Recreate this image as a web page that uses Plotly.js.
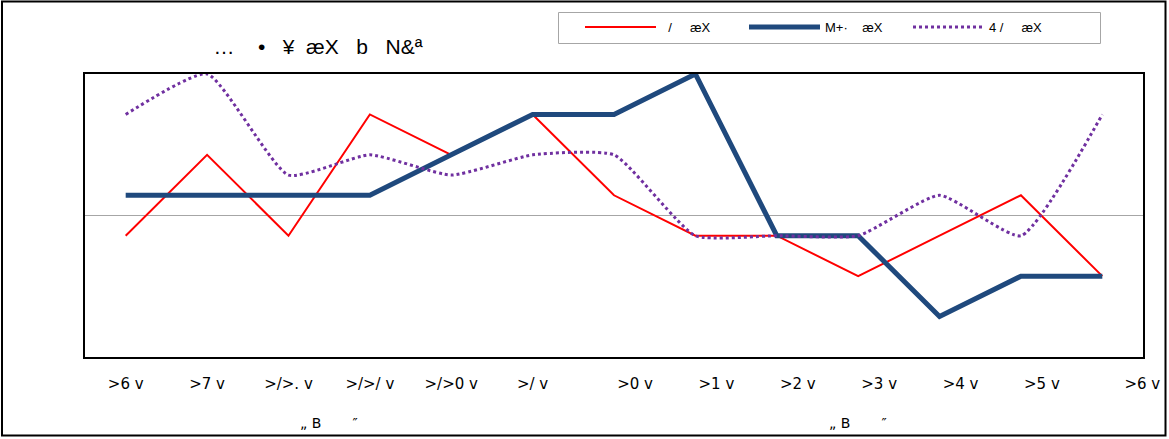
<!DOCTYPE html>
<html>
<head>
<meta charset="utf-8">
<script src="https://cdn.plot.ly/plotly-3.0.1.min.js"></script>
<style>
html,body{margin:0;padding:0;background:#fff;}
#chart{width:1169px;height:439px;}
</style>
</head>
<body>
<div id="chart"></div>
<script>
// ---- data ----
var categories = ['>6 v', '>7 v', '>/>. v', '>/>/ v', '>/>0 v', '>/ v', '>0 v', '>1 v', '>2 v', '>3 v', '>4 v', '>5 v', '>6 v'];
var groupNames = ['\u201e B\u00a0\u00a0\u00a0\u00a0\u00a0\u00a0\u00a0\u2033', '\u201e B\u00a0\u00a0\u00a0\u00a0\u00a0\u00a0\u00a0\u2033'];
var groupSizes = [6, 7];
var seriesNames = ['\u00a0\u00a0/\u00a0\u00a0\u00a0\u00a0 æX', 'M+·\u00a0\u00a0\u00a0 æX', '4 /\u00a0\u00a0\u00a0\u00a0 æX'];
var redValues    = [-0.5, 1.5, -0.5, 2.5, 1.5, 2.5, 0.5, -0.5, -0.5, -1.5, -0.5, 0.5, -1.5];
var blueValues   = [0.5, 0.5, 0.5, 0.5, 1.5, 2.5, 2.5, 3.5, -0.5, -0.5, -2.5, -1.5, -1.5];
var purpleValues = [2.5, 3.5, 1.0, 1.5, 1.0, 1.5, 1.5, -0.5, -0.5, -0.5, 0.5, -0.5, 2.5];
var titleText = '\u2026\u00a0\u00a0\u00a0\u00a0\u2022\u00a0\u00a0\u00a0¥\u00a0\u00a0æX\u00a0\u00a0\u00a0b\u00a0\u00a0\u00a0N&ª';

// ---- layout constants ----
var W = 1169, H = 439, ML = 85, MR = 26, MT = 74, MB = 82;
var PW = W - ML - MR, PH = H - MT - MB;
function px2x(p){ return (p - ML) / PW; }
function px2y(p){ return (H - MB - p) / PH; }

var idx = categories.map(function(_, i){ return i; });
var catWidth = PW / categories.length;
// tick-label pixel offsets seen in the original (second group labels sit right of their points)
function labelShiftPx(i){
  if (i < groupSizes[0]) return 0;
  if (i === categories.length - 1) return 40;
  return 21;
}
var tickPositions = idx.map(function(i){ return i + labelShiftPx(i) / catWidth; });

var traces = [
  {x: idx, y: redValues, name: seriesNames[0], type: 'scatter', mode: 'lines',
   line: {color: '#ff0000', width: 2}},
  {x: idx, y: blueValues, name: seriesNames[1], type: 'scatter', mode: 'lines',
   line: {color: '#1f497d', width: 5}},
  {x: idx, y: purpleValues, name: seriesNames[2], type: 'scatter', mode: 'lines',
   line: {color: '#7030a0', width: 3, dash: 'dot', shape: 'spline', smoothing: 0.5}}
];

// group label annotations centred on their categories
var annotations = [];
var start = 0;
groupSizes.forEach(function(n, g){
  annotations.push({
    x: start + (n - 1) / 2, xref: 'x', y: 0, yref: 'paper',
    yanchor: 'middle', yshift: -66, showarrow: false,
    text: groupNames[g], font: {family: 'DejaVu Sans, sans-serif', size: 14, color: '#000'}
  });
  start += n;
});

var layout = {
  width: W, height: H,
  margin: {l: ML, r: MR, t: MT, b: MB, pad: 0},
  paper_bgcolor: '#fff', plot_bgcolor: '#fff',
  showlegend: true,
  title: {text: titleText, x: 318 / W, xanchor: 'center', y: 1 - 47 / H, yanchor: 'middle',
    font: {family: 'Liberation Sans, Arial, sans-serif', size: 21, color: '#000'}},
  xaxis: {range: [-0.5, categories.length - 0.5], showgrid: false, zeroline: false,
    ticks: '', fixedrange: true, ticklabelstandoff: 12,
    tickfont: {family: 'DejaVu Sans, sans-serif', size: 15, color: '#000'},
    tickmode: 'array', tickvals: tickPositions, ticktext: categories,
    showline: true, mirror: true, linecolor: '#000', linewidth: 2},
  yaxis: {range: [-3.5, 3.5], showgrid: false, zeroline: true, zerolinecolor: '#a6a6a6', zerolinewidth: 1,
    showticklabels: false, ticks: '', showline: true, mirror: true, linecolor: '#000', linewidth: 2, fixedrange: true},
  legend: {orientation: 'h', x: px2x(580), xanchor: 'left', y: px2y(12), yanchor: 'top',
    borderwidth: 0, bgcolor: 'rgba(0,0,0,0)',
    font: {family: 'Liberation Sans, Arial, sans-serif', size: 13, color: '#000'},
    itemwidth: 71, entrywidth: 78, entrywidthmode: 'pixels', traceorder: 'normal'},
  annotations: annotations,
  shapes: [
    {type: 'rect', xref: 'paper', yref: 'paper',
     x0: px2x(2), x1: px2x(1165.5), y0: px2y(435.5), y1: px2y(1.5),
     line: {color: '#000', width: 2}, fillcolor: 'rgba(0,0,0,0)', layer: 'above'},
    {type: 'rect', xref: 'paper', yref: 'paper',
     x0: px2x(558.5), x1: px2x(1100.5), y0: px2y(43.5), y1: px2y(12.5),
     line: {color: '#a6a6a6', width: 1}, fillcolor: 'rgba(0,0,0,0)', layer: 'below'}
  ]
};

Plotly.newPlot('chart', traces, layout, {displayModeBar: false, staticPlot: true});
</script>
</body>
</html>
